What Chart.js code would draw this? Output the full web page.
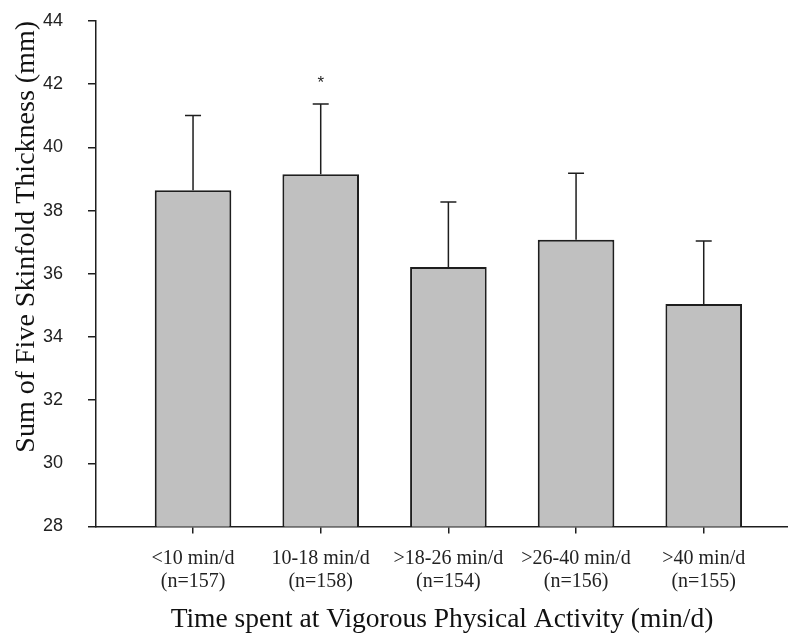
<!DOCTYPE html>
<html>
<head>
<meta charset="utf-8">
<script src="https://cdn.jsdelivr.net/npm/chart.js@4/dist/chart.umd.min.js"></script>
<style>
  html, body { margin: 0; padding: 0; background: #ffffff; }
  canvas { display: block; }
</style>
</head>
<body>
<canvas id="chart" width="788" height="636"></canvas>
<script>
// Activity groups and their sample sizes
const categories = ['<10 min/d', '10-18 min/d', '>18-26 min/d', '>26-40 min/d', '>40 min/d'];
const groupSizes = ['(n=157)', '(n=158)', '(n=154)', '(n=156)', '(n=155)'];
// Mean sum of five skinfolds (mm) and upper error (mm)
const meanThickness = [38.64, 39.15, 36.21, 37.08, 35.04];
const errorUpper = [2.37, 2.22, 2.06, 2.10, 2.00];
// Groups marked with an asterisk
const significant = [false, true, false, false, false];
// Category positions on the x axis
const positions = [1, 2, 3, 4, 5];

const ink = '#1e1e1e';

// Upper error whiskers and significance markers
const errorBarPlugin = {
  id: 'errorBars',
  afterDatasetsDraw(chart) {
    const { ctx, scales: { y } } = chart;
    const meta = chart.getDatasetMeta(0);
    ctx.save();
    ctx.strokeStyle = ink;
    ctx.lineWidth = 1.5;
    ctx.fillStyle = ink;
    ctx.font = '17px "Liberation Sans"';
    ctx.textAlign = 'center';
    ctx.textBaseline = 'middle';
    meta.data.forEach((bar, i) => {
      const yBase = y.getPixelForValue(meanThickness[i]);
      const yTop = y.getPixelForValue(meanThickness[i] + errorUpper[i]);
      ctx.beginPath();
      ctx.moveTo(bar.x, yBase);
      ctx.lineTo(bar.x, yTop);
      ctx.moveTo(bar.x - 8, yTop);
      ctx.lineTo(bar.x + 8, yTop);
      ctx.stroke();
      if (significant[i]) {
        ctx.fillText('*', bar.x, yTop - 21);
      }
    });
    ctx.restore();
  }
};

new Chart(document.getElementById('chart'), {
  type: 'bar',
  data: {
    datasets: [{
      data: positions.map((p, i) => ({ x: p, y: meanThickness[i] })),
      backgroundColor: '#c0c0c0',
      borderColor: ink,
      borderWidth: 2,
      borderSkipped: 'start',
      barPercentage: 0.6,
      categoryPercentage: 1.0
    }]
  },
  options: {
    responsive: false,
    animation: false,
    layout: { padding: { top: 21, right: 0, bottom: 0, left: 0 } },
    plugins: {
      legend: { display: false },
      tooltip: { enabled: false }
    },
    scales: {
      x: {
        type: 'linear',
        offset: false,
        min: 0.24,
        max: 5.66,
        afterBuildTicks: (scale) => {
          scale.ticks = positions.map(v => ({ value: v }));
        },
        afterFit: (scale) => { scale.height = 109.5; },
        ticks: {
          autoSkip: false,
          maxRotation: 0,
          padding: 14,
          color: '#222',
          font: { family: '"Liberation Serif"', size: 20, lineHeight: 1.15 },
          callback: (value) => {
            const i = positions.indexOf(value);
            return i < 0 ? '' : [categories[i], groupSizes[i]];
          }
        },
        grid: {
          offset: false,
          drawOnChartArea: false,
          drawTicks: true,
          tickLength: 7,
          color: ink,
          lineWidth: 1.5
        },
        border: { color: ink, width: 1.5 },
        title: {
          display: true,
          text: 'Time spent at Vigorous Physical Activity (min/d)',
          color: '#111',
          font: { family: '"Liberation Serif"', size: 27.5 },
          padding: { top: 0, bottom: 0 }
        }
      },
      y: {
        type: 'linear',
        min: 28,
        max: 44,
        afterFit: (scale) => {
          scale.width = 96;
          scale.paddingTop = 0;
          scale.paddingBottom = 0;
        },
        ticks: {
          stepSize: 2,
          padding: 25,
          color: '#222',
          font: { family: '"Liberation Sans"', size: 18 }
        },
        grid: {
          drawOnChartArea: false,
          drawTicks: true,
          tickLength: 8,
          color: ink,
          lineWidth: 1.5
        },
        border: { color: ink, width: 1.5 },
        title: {
          display: true,
          text: 'Sum of Five Skinfold Thickness (mm)',
          align: 'end',
          color: '#111',
          font: { family: '"Liberation Serif"', size: 28 },
          padding: { top: 10, bottom: 0 }
        }
      }
    }
  },
  plugins: [errorBarPlugin]
});
</script>
</body>
</html>
